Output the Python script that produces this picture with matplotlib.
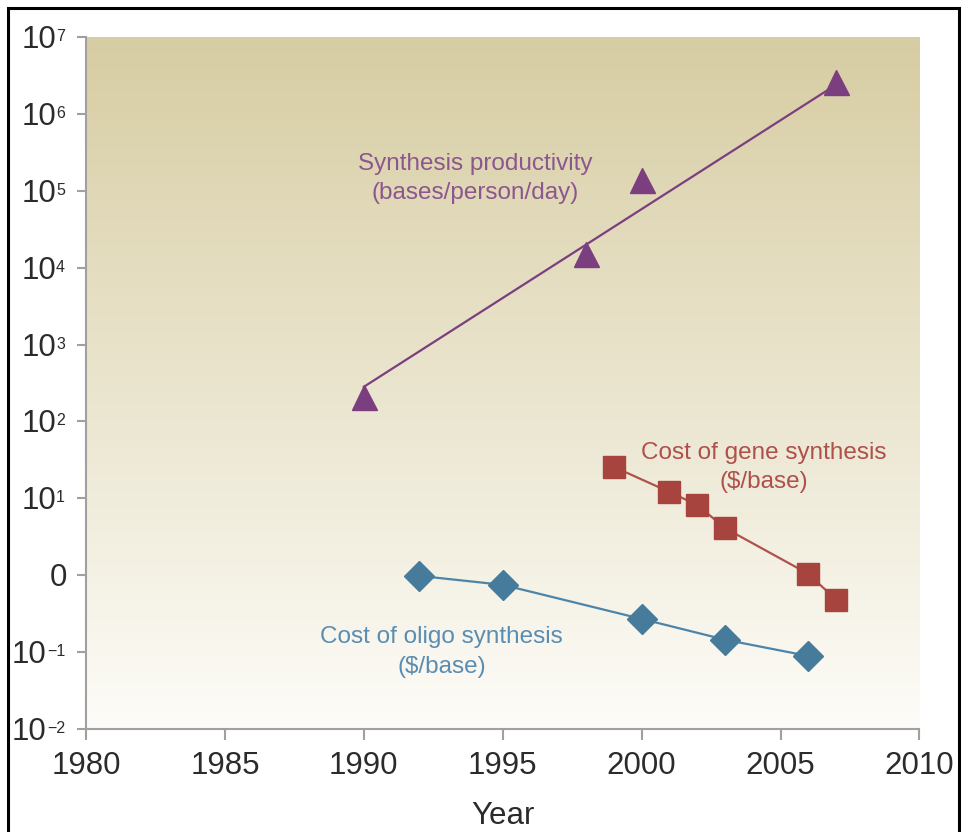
import numpy as np
import matplotlib
matplotlib.use("Agg")
import matplotlib.pyplot as plt
import matplotlib.transforms as mtransforms
from matplotlib.patches import Rectangle
from matplotlib.ticker import FixedLocator, NullFormatter

plt.rcParams['font.family'] = ['Liberation Sans', 'DejaVu Sans']

# Synthesis productivity (bases/person/day)
prod_years = [1990, 1998, 2000, 2007]
prod_values = [205, 1.5e4, 1.4e5, 2.6e6]
prod_trend_years = [1990, 2007]
prod_trend_values = [282, 2.4e6]

# Cost of gene synthesis ($/base)
gene_years = [1999, 2001, 2002, 2003, 2006, 2007]
gene_values = [25.6, 12.1, 8.2, 4.1, 1.04, 0.48]

# Cost of oligo synthesis ($/base)
oligo_years = [1992, 1995, 2000, 2003, 2006]
oligo_values = [0.98, 0.75, 0.27, 0.145, 0.089]

x_ticks = [1980, 1985, 1990, 1995, 2000, 2005, 2010]
y_ticks = [1e-2, 1e-1, 1e0, 1e1, 1e2, 1e3, 1e4, 1e5, 1e6, 1e7]
# y tick labels as (base, exponent); an empty exponent means a plain label
y_tick_bases = ['10', '10', '0', '10', '10', '10', '10', '10', '10', '10']
y_tick_exps = ['−2', '−1', '', '1', '2', '3', '4', '5', '6', '7']

W, H = 964, 832
fig = plt.figure(figsize=(W / 100, H / 100), dpi=100)
ax = fig.add_axes([86 / W, 1 - 729 / H, (919.5 - 86) / W, (729 - 37) / H])

# Vertical tan-to-white gradient behind the plot
top = np.array([215, 205, 163]) / 255
bottom = np.array([253, 252, 248]) / 255
t = np.linspace(0, 1, 256)[:, None]
grad = (bottom * (1 - t) + top * t)[:, None, :].repeat(2, axis=1)
ax.imshow(grad, extent=[0, 1, 0, 1], transform=ax.transAxes, origin='lower',
          aspect='auto', zorder=0, interpolation='bicubic')

ax.set_yscale('log')
ax.set_xlim(1980, 2010)
ax.set_ylim(1e-2, 1e7)

purple, purple_txt = '#7B3F80', '#8C568E'
red, red_txt = '#A7443E', '#B0504A'
blue, blue_txt = '#477B9C', '#5A8DB2'

ax.plot(prod_trend_years, prod_trend_values, color=purple, lw=1.6, zorder=2)
ax.plot(prod_years, prod_values, ls='none', marker='^', ms=18, color=purple,
        mec=purple, zorder=3)

ax.plot(gene_years, gene_values, color='#B0524C', lw=1.6, zorder=2)
ax.plot(gene_years, gene_values, ls='none', marker='s', ms=16.5, color=red,
        mec=red, zorder=3)

ax.plot(oligo_years, oligo_values, color='#4E84A8', lw=1.6, zorder=2)
ax.plot(oligo_years, oligo_values, ls='none', marker='D', ms=15.5, color=blue,
        mec=blue, zorder=3)

fs_note = 17.5
ax.text(1994.0, 10 ** 5.16, 'Synthesis productivity\n(bases/person/day)',
        color=purple_txt, fontsize=fs_note, ha='center', va='center',
        linespacing=1.45)
ax.text(2004.4, 10 ** 1.40, 'Cost of gene synthesis\n($/base)',
        color=red_txt, fontsize=fs_note, ha='center', va='center',
        linespacing=1.45)
ax.text(1992.8, 10 ** -1.0, 'Cost of oligo synthesis\n($/base)',
        color=blue_txt, fontsize=fs_note, ha='center', va='center',
        linespacing=1.45)

ax.xaxis.set_major_locator(FixedLocator(x_ticks))
ax.set_xticklabels([str(v) for v in x_ticks])
ax.yaxis.set_major_locator(FixedLocator(y_ticks))
ax.yaxis.set_major_formatter(NullFormatter())
ax.yaxis.set_minor_locator(FixedLocator([]))
ax.yaxis.set_minor_formatter(NullFormatter())

for side in ('top', 'right'):
    ax.spines[side].set_visible(False)
for side in ('left', 'bottom'):
    ax.spines[side].set_color('#a0a0a0')
    ax.spines[side].set_linewidth(1.5)

ax.tick_params(axis='x', which='major', length=8, width=1.5, color='#a0a0a0',
               labelsize=22.5, labelcolor='#2b2b2b', direction='out', pad=7.5)
ax.tick_params(axis='y', which='major', length=6.5, width=1.5, color='#a0a0a0',
               direction='out')

ax.set_xlabel('Year', fontsize=22.5, color='#2b2b2b', labelpad=15)

# Y tick labels: "10" with a small raised exponent
label_color = '#2b2b2b'
ytrans = ax.get_yaxis_transform()
renderer = fig.canvas.get_renderer()
right_px = 21  # gap between axis and label end, in pixels
for val, base, exp in zip(y_ticks, y_tick_bases, y_tick_exps):
    if exp:
        off = mtransforms.ScaledTranslation(-right_px / 100, 8 / 100,
                                            fig.dpi_scale_trans)
        sup = ax.text(0, val, exp, transform=ytrans + off, ha='right',
                      va='top', fontsize=11.5, color=label_color,
                      clip_on=False)
        w = sup.get_window_extent(renderer).width
    else:
        w = -2
    off2 = mtransforms.ScaledTranslation(-(right_px + w) / 100, -3 / 100,
                                         fig.dpi_scale_trans)
    ax.text(0, val, base, transform=ytrans + off2, ha='right',
            va='center', fontsize=22.5, color=label_color, clip_on=False)

# Outer black frame
fig.patches.append(Rectangle((7.5 / W, -0.02), (959 - 7.5) / W, 1.02 - 8 / H,
                             transform=fig.transFigure, fill=False,
                             edgecolor='black', linewidth=2.2, zorder=10))

fig.savefig('out.png', dpi=100)
